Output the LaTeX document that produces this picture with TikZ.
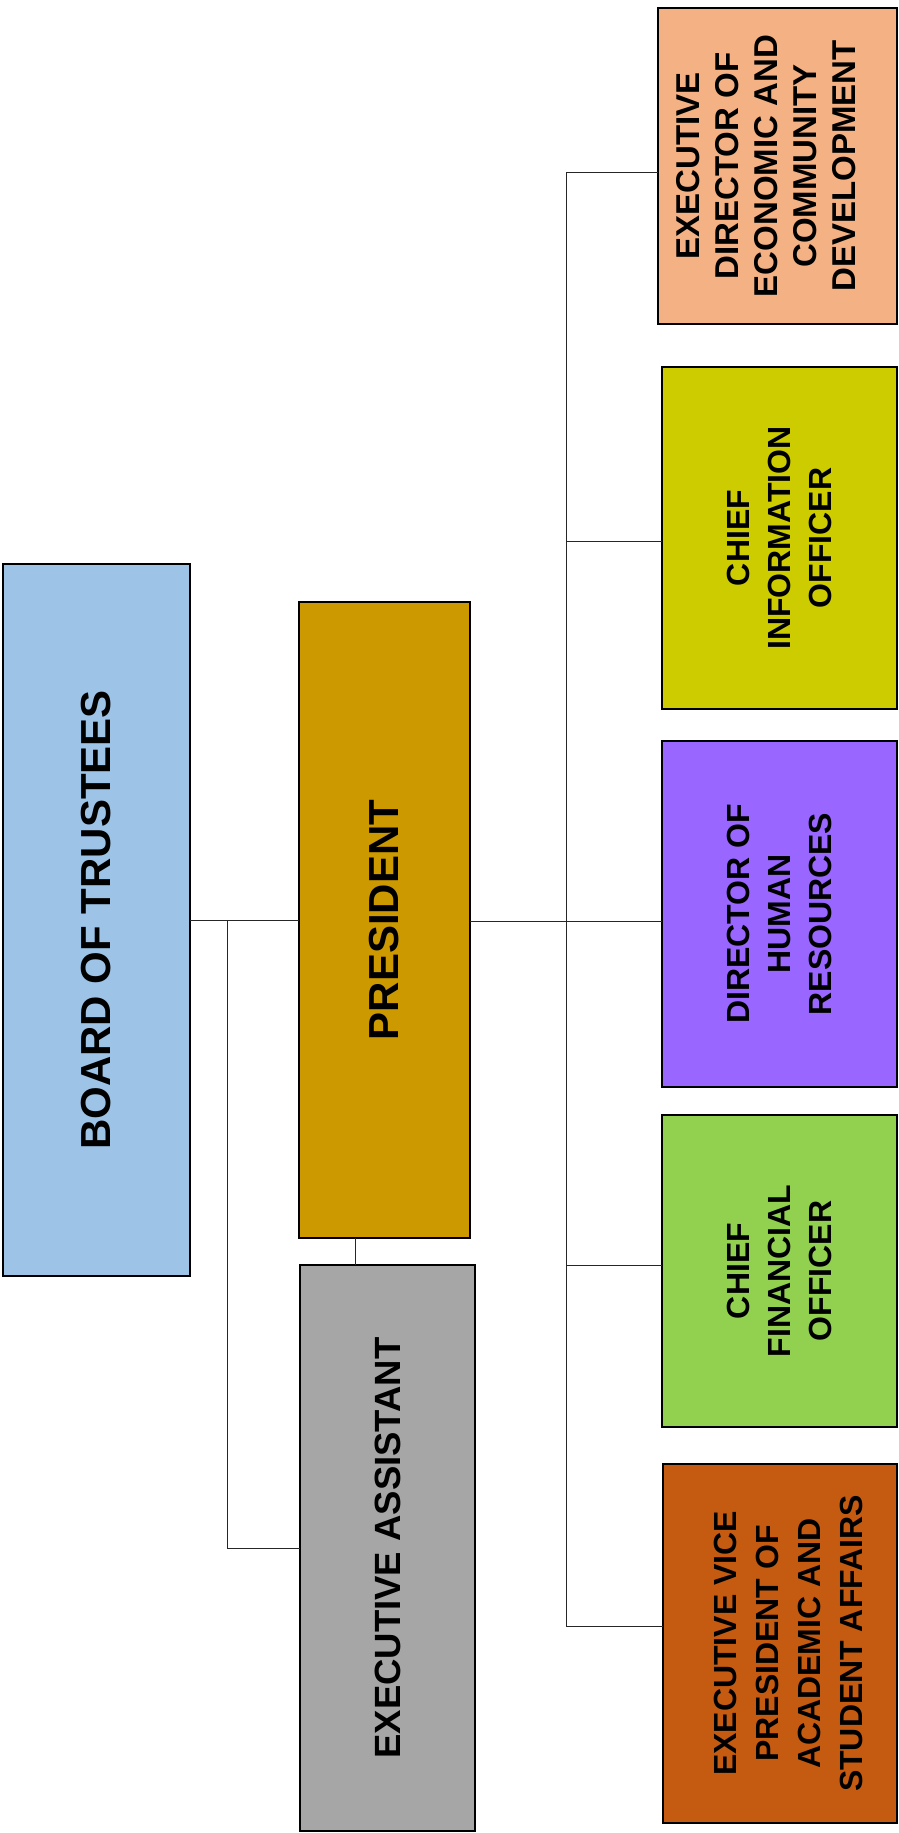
\documentclass[tikz,border=0pt]{standalone}
\usepackage{fontspec}
\setmainfont{Liberation Sans}
\definecolor{cboard}{HTML}{9DC3E6}
\definecolor{cpres}{HTML}{CC9900}
\definecolor{cea}{HTML}{A6A6A6}
\definecolor{ced}{HTML}{F4B183}
\definecolor{ccio}{HTML}{CCCC00}
\definecolor{cdhr}{HTML}{9966FF}
\definecolor{ccfo}{HTML}{92D050}
\definecolor{cevp}{HTML}{C55A11}
\tikzset{
  box/.style={draw=black, line width=1.6pt, inner sep=0pt, outer sep=0pt},
  bigtxt/.style={rotate=90, font=\bfseries\fontsize{42}{48}\selectfont, align=center, inner sep=0pt},
  midtxt/.style={rotate=90, font=\bfseries\fontsize{36.5}{42}\selectfont, align=center, inner sep=0pt},
  smalltxt/.style={rotate=90, font=\bfseries\fontsize{32}{41}\selectfont, align=center, inner sep=0pt},
  conn/.style={draw=black!85, line width=1pt}
}
\begin{document}
\begin{tikzpicture}[x=1pt,y=-1pt]
\useasboundingbox (0,0) rectangle (898,1833);
% boxes
\node[box, fill=cboard, minimum width=187pt, minimum height=712pt] (board) at (96.5,920) {};
\node[box, fill=cpres, minimum width=171pt, minimum height=636pt] (pres) at (384.5,920) {};
\node[box, fill=cea, minimum width=175pt, minimum height=566pt] (ea) at (387.5,1548) {};
\node[box, fill=ced, minimum width=239pt, minimum height=316pt] (ed) at (777.5,166) {};
\node[box, fill=ccio, minimum width=235pt, minimum height=342pt] (cio) at (779.5,538) {};
\node[box, fill=cdhr, minimum width=235pt, minimum height=346pt] (dhr) at (779.5,914) {};
\node[box, fill=ccfo, minimum width=235pt, minimum height=312pt] (cfo) at (779.5,1271) {};
\node[box, fill=cevp, minimum width=234pt, minimum height=359pt] (evp) at (780,1643.5) {};
% texts
\node[bigtxt] (tboard) at (board.center) {BOARD OF TRUSTEES};
\node[bigtxt] (tpres) at (pres.center) {PRESIDENT};
\node[midtxt] (tea) at (ea.center) {EXECUTIVE ASSISTANT};
\node[smalltxt, font=\bfseries\fontsize{33}{39}\selectfont] (ted) at ([xshift=-11pt]ed.center) {EXECUTIVE\\DIRECTOR OF\\ECONOMIC AND\\COMMUNITY\\DEVELOPMENT};
\node[smalltxt] (tcio) at (cio.center) {CHIEF\\INFORMATION\\OFFICER};
\node[smalltxt] (tdhr) at (dhr.center) {DIRECTOR OF\\HUMAN\\RESOURCES};
\node[smalltxt] (tcfo) at (cfo.center) {CHIEF\\FINANCIAL\\OFFICER};
\node[smalltxt, font=\bfseries\fontsize{32}{42}\selectfont] (tevp) at ([xshift=8pt]evp.center) {EXECUTIVE VICE\\PRESIDENT OF\\ACADEMIC AND\\STUDENT AFFAIRS};
% junction coordinates
\coordinate (lj) at (227,920);
\coordinate (lb) at (227,1548);
\coordinate (tj) at (566,921);
\coordinate (ttop) at (566,172);
\coordinate (tcioj) at (566,541);
\coordinate (tcfoj) at (566,1265);
\coordinate (tbot) at (566,1626);
\coordinate (px) at (355,0);
% connectors
\draw[conn] (board.east) -- (pres.west);
\draw[conn] (lj) -- (lb) -- (ea.west |- lb);
\draw[conn] (pres.east |- tj) -- (dhr.west |- tj);
\draw[conn] (ed.west |- ttop) -- (ttop) -- (tbot) -- (evp.west |- tbot);
\draw[conn] (tcioj) -- (cio.west |- tcioj);
\draw[conn] (tcfoj) -- (cfo.west |- tcfoj);
\draw[conn] (pres.south -| px) -- (ea.north -| px);
\end{tikzpicture}
\end{document}
